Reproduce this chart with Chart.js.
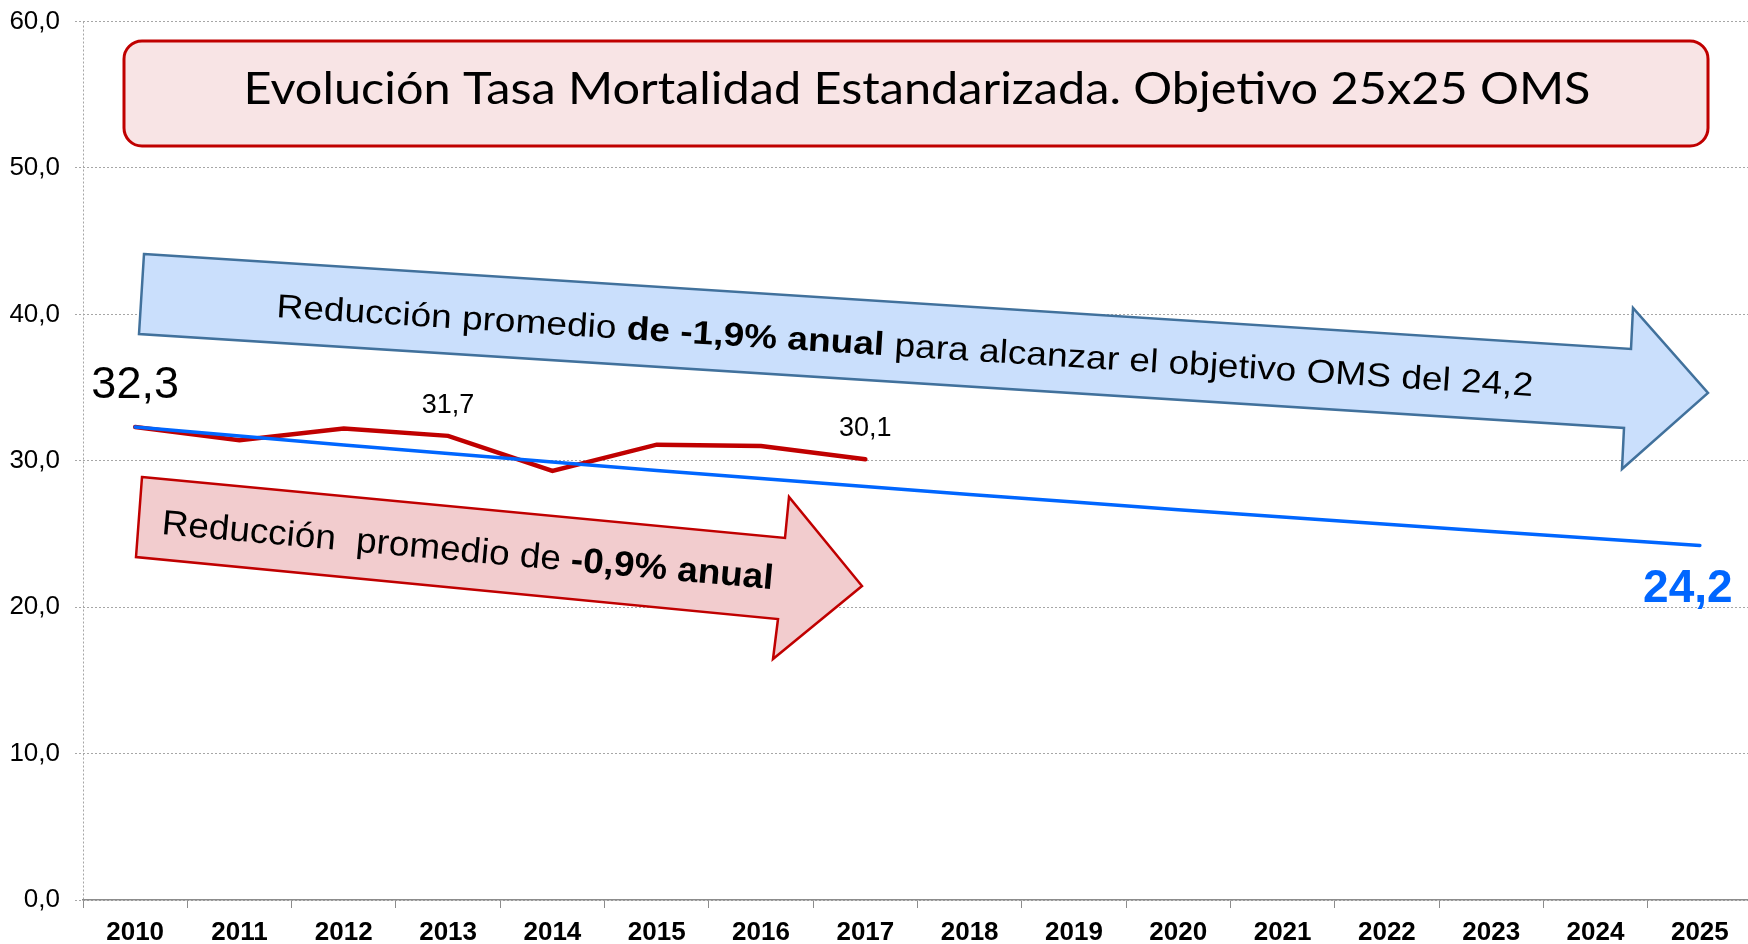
<!DOCTYPE html>
<html>
<head>
<meta charset="utf-8">
<script src="https://cdn.jsdelivr.net/npm/chart.js@4.4.1/dist/chart.umd.min.js"></script>
<style>
  html, body { margin: 0; padding: 0; background: #fff; overflow: hidden; }
  #wrap { position: absolute; left: 0; top: 0; width: 1760px; height: 944px; }
</style>
</head>
<body>
<div id="wrap"><canvas id="chart" width="1760" height="944"></canvas></div>
<script>
// Data
const years = ['2010', '2011', '2012', '2013', '2014', '2015', '2016', '2017',
               '2018', '2019', '2020', '2021', '2022', '2023', '2024', '2025'];
const observed = [32.3, 31.4, 32.2, 31.7, 29.3, 31.1, 31.0, 30.1];
const target = [32.3, 31.69, 31.08, 30.49, 29.91, 29.34, 28.79, 28.24,
                27.70, 27.18, 26.66, 26.15, 25.66, 25.17, 24.69, 24.22];
const observedLabelIdx = [0, 3, 7];
const targetLabelIdx = [15];
const yTicks = [0, 10, 20, 30, 40, 50, 60];

const titleText = 'Evolución Tasa Mortalidad Estandarizada. Objetivo 25x25 OMS';
const blueNote = [['Reducción promedio ', false], ['de -1,9% anual', true], [' para alcanzar el objetivo OMS del 24,2', false]];
const redNote = [['Reducción  promedio de ', false], ['-0,9% anual', true]];

const FONT = '"Liberation Sans", Arial, sans-serif';
const fmt = v => v.toFixed(1).replace('.', ',');

function drawArrow(ctx, pts, fill, stroke, lw) {
    ctx.save();
    ctx.beginPath();
    pts.forEach(([x, y], i) => i ? ctx.lineTo(x, y) : ctx.moveTo(x, y));
    ctx.closePath();
    ctx.fillStyle = fill;
    ctx.fill();
    ctx.lineWidth = lw;
    ctx.strokeStyle = stroke;
    ctx.stroke();
    ctx.restore();
}

// rotated text made of normal/bold runs, stretched to a given length
function drawRichText(ctx, parts, x, y, angle, size, width) {
    const fontOf = b => `${b ? 'bold ' : ''}${size}px ${FONT}`;
    ctx.save();
    ctx.translate(x, y);
    ctx.rotate(angle);
    let total = 0;
    parts.forEach(([t, b]) => { ctx.font = fontOf(b); total += ctx.measureText(t).width; });
    ctx.scale(width / total, 1);
    ctx.fillStyle = '#000';
    ctx.textAlign = 'left';
    ctx.textBaseline = 'alphabetic';
    let cx = 0;
    parts.forEach(([t, b]) => {
        ctx.font = fontOf(b);
        ctx.fillText(t, cx, 0);
        cx += ctx.measureText(t).width;
    });
    ctx.restore();
}

const annotations = {
    id: 'annotations',
    beforeDatasetsDraw(chart) {
        const ctx = chart.ctx;

        // title box
        ctx.save();
        ctx.beginPath();
        ctx.roundRect(124, 41, 1584, 105, 18);
        ctx.fillStyle = '#F8E4E5';
        ctx.fill();
        ctx.lineWidth = 3;
        ctx.strokeStyle = '#C00000';
        ctx.stroke();
        ctx.font = `45px Lato, "Open Sans", sans-serif`;
        const tw = ctx.measureText(titleText).width;
        ctx.translate(917, 104);
        ctx.scale(1347 / tw, 1);
        ctx.fillStyle = '#000';
        ctx.textAlign = 'center';
        ctx.textBaseline = 'alphabetic';
        ctx.fillText(titleText, 0, 0);
        ctx.restore();

        // arrows
        drawArrow(ctx, [[144, 254], [1631, 349], [1633, 308], [1708, 393], [1622, 469], [1624, 428], [139, 334]],
            '#CADFFC', '#41719C', 2.5);
        drawRichText(ctx, blueNote, 276, 317, Math.atan2(79, 1257), 33, 1259);

        drawArrow(ctx, [[142, 477], [785, 538], [789, 497], [862, 586], [773, 659], [778, 619], [136, 557]],
            '#F2CCCE', '#C00000', 2.5);
        drawRichText(ctx, redNote, 161, 534, Math.atan2(55, 611), 35, 614);
    },
    afterDatasetsDraw(chart) {
        const ctx = chart.ctx;
        ctx.save();
        ctx.textAlign = 'center';
        ctx.textBaseline = 'alphabetic';

        const obsMeta = chart.getDatasetMeta(1);
        observedLabelIdx.forEach(i => {
            const p = obsMeta.data[i];
            const big = i === 0;
            ctx.font = `${big ? 45 : 27}px ${FONT}`;
            ctx.fillStyle = '#000';
            ctx.fillText(fmt(observed[i]), p.x, p.y - (big ? 29 : 23));
        });

        const tgtMeta = chart.getDatasetMeta(0);
        targetLabelIdx.forEach(i => {
            const p = tgtMeta.data[i];
            ctx.font = `bold 46px ${FONT}`;
            ctx.fillStyle = '#0066FF';
            ctx.fillText(fmt(target[i]), p.x - 12, p.y + 57);
        });
        ctx.restore();
    }
};

new Chart(document.getElementById('chart'), {
    type: 'line',
    data: {
        labels: years,
        datasets: [
            {
                label: 'Objetivo OMS 25x25',
                data: target,
                borderColor: '#0066FF',
                borderWidth: 3.5,
                pointRadius: 0,
                tension: 0,
                borderCapStyle: 'round'
            },
            {
                label: 'Tasa mortalidad estandarizada',
                data: observed,
                borderColor: '#C00000',
                borderWidth: 4.5,
                pointRadius: 0,
                tension: 0,
                borderCapStyle: 'round'
            }
        ]
    },
    options: {
        responsive: false,
        animation: false,
        layout: { padding: { top: 21, right: 8, left: 0, bottom: 0 } },
        plugins: {
            legend: { display: false },
            tooltip: { enabled: false }
        },
        scales: {
            x: {
                offset: true,
                grid: {
                    offset: true,
                    color: c => c.index === 0 ? '#a6a6a6' : 'rgba(0,0,0,0)',
                    tickColor: '#8c8c8c',
                    tickLength: 8,
                    tickBorderDash: []
                },
                border: { display: true, color: '#8c8c8c', width: 1.5, dash: [2, 2] },
                ticks: {
                    color: '#000',
                    font: { family: FONT, size: 26, weight: 'bold' },
                    padding: 9,
                    maxRotation: 0,
                    autoSkip: false
                },
                afterFit: s => { s.height = 44; }
            },
            y: {
                min: 0,
                max: 60,
                border: { display: false, dash: [2, 2] },
                grid: { color: '#a6a6a6', tickColor: '#a6a6a6', tickLength: 8, tickBorderDash: [2, 2] },
                ticks: {
                    color: '#000',
                    font: { family: FONT, size: 26, lineHeight: 0.5 },
                    padding: 15,
                    callback: v => fmt(v)
                },
                afterBuildTicks: s => { s.ticks = yTicks.map(v => ({ value: v })); },
                afterFit: s => { s.width = 83; }
            }
        }
    },
    plugins: [annotations]
});
</script>
</body>
</html>
